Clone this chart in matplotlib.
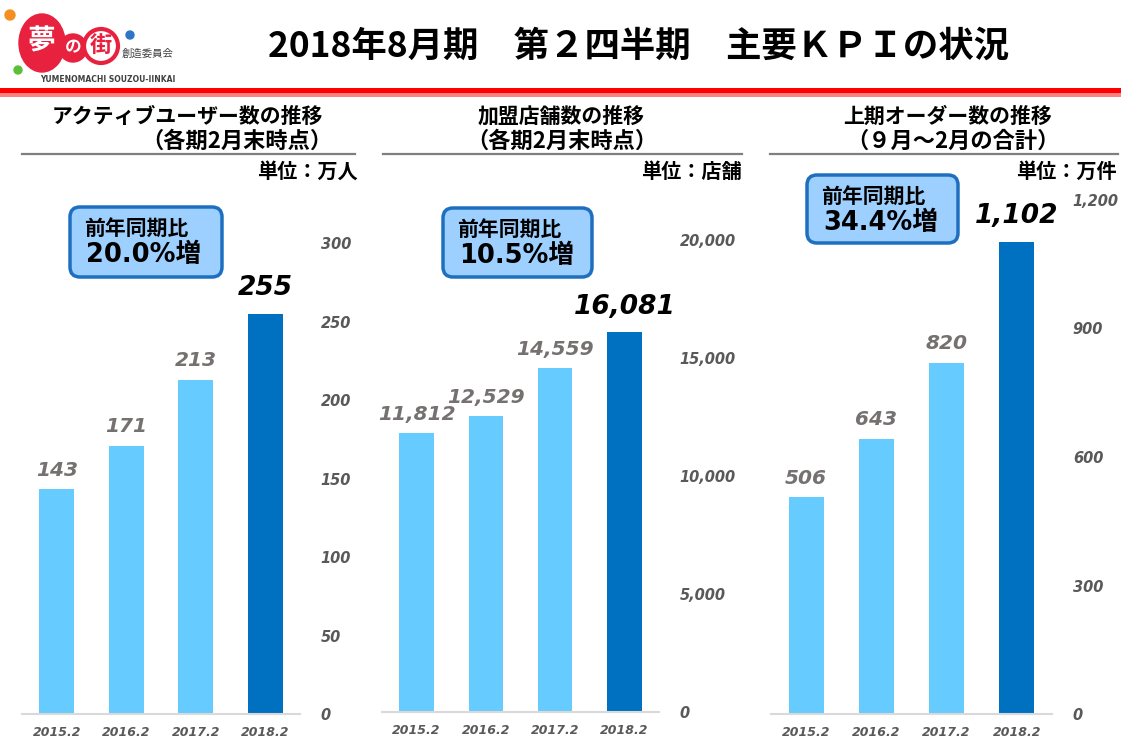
import matplotlib
matplotlib.use('Agg')
import matplotlib.pyplot as plt
from matplotlib.patches import FancyBboxPatch, Ellipse, Circle, Rectangle
from matplotlib.ticker import FuncFormatter

JP = ['Noto Sans CJK JP', 'DejaVu Sans']
NUM = ['DejaVu Sans', 'Noto Sans CJK JP']

#%% Data

periods = ['2015.2', '2016.2', '2017.2', '2018.2']
active_users = [143, 171, 213, 255]       # 万人
member_shops = [11812, 12529, 14559, 16081]  # 店舗
orders = [506, 643, 820, 1102]             # 万件

titles = [('アクティブユーザー数の推移', '（各期2月末時点）'),
          ('加盟店舗数の推移', '（各期2月末時点）'),
          ('上期オーダー数の推移', '（９月～2月の合計）')]
units = ['単位：万人', '単位：店舗', '単位：万件']
growth = ['20.0%増', '10.5%増', '34.4%増']
y_max = [300, 20000, 1200]
y_step = [50, 5000, 300]

#%% Layout (pixels)

W, H = 1121, 747
LIGHT = '#66CCFF'
DARK = '#0070C0'
GRAY = '#595959'
LABEL_GRAY = '#767171'

panels = [
    dict(vals=active_users, ax=(22, 243, 300, 714), t1=187, t2=237, line=(22, 355),
         unit_x=358, box=(70, 207, 222, 277)),
    dict(vals=member_shops, ax=(382, 240, 659, 712), t1=561, t2=562, line=(383, 742),
         unit_x=742, box=(443, 208, 592, 277)),
    dict(vals=orders, ax=(771, 200, 1052, 714), t1=948, t2=953, line=(770, 1118),
         unit_x=1117, box=(807, 175, 958, 243)),
]

fig = plt.figure(figsize=(W / 100, H / 100), dpi=100)

# overlay in pixel coords for headers, boxes, logo
bg = fig.add_axes([0, 0, 1, 1])
bg.set_xlim(0, W)
bg.set_ylim(H, 0)
bg.axis('off')

# logo
bg.add_patch(Circle((10, 15), 5, color='#F39020'))
bg.add_patch(Circle((130, 35), 4, color='#2E75C8'))
bg.add_patch(Circle((18, 70), 4, color='#5BBF3A'))
bg.add_patch(Ellipse((42, 43), 46, 58, color='#E8213F'))
bg.add_patch(Circle((73, 48), 14, color='#E8213F'))
bg.add_patch(Circle((101, 46), 17, facecolor='white', edgecolor='#E8213F', lw=3))
bg.text(41, 41, '夢', family=JP, weight='bold', size=20, color='white', ha='center', va='center')
bg.text(73, 47, 'の', family=JP, weight='bold', size=12, color='white', ha='center', va='center')
bg.text(101, 45, '街', family=JP, weight='bold', size=16, color='#E8213F', ha='center', va='center')
bg.text(122, 54, '創造委員会', family=JP, size=7.5, color='#404040', va='center')
bg.text(108, 80, 'YUMENOMACHI SOUZOU-IINKAI', family=NUM, weight='bold', size=5.5,
        color='#404040', ha='center', va='center')

# page title and red rule
bg.text(639, 46, '2018年8月期　第２四半期　主要ＫＰＩの状況', family=JP, weight='bold',
        size=25.5, ha='center', va='center', color='black')
bg.add_patch(Rectangle((0, 88), W, 5, color='#FF0000', lw=0))
bg.add_patch(Rectangle((0, 93), W, 4, color='#FF8080', lw=0))

for i, p in enumerate(panels):
    # headers
    bg.text(p['t1'], 116, titles[i][0], family=JP, weight='bold', size=15, ha='center', va='center')
    bg.text(p['t2'], 141, titles[i][1], family=JP, weight='bold', size=16, ha='center', va='center')
    bg.plot(p['line'], [154, 154], color='#7F7F7F', lw=1.6)
    bg.text(p['unit_x'], 171, units[i], family=JP, weight='bold', size=14.5, ha='right', va='center')

    # growth box
    x0, y0, x1, y1 = p['box']
    bg.add_patch(FancyBboxPatch((x0, y0), x1 - x0, y1 - y0, boxstyle='round,pad=0,rounding_size=10',
                                facecolor='#9DCFFF', edgecolor='#1E6FC0', lw=2.5))
    bg.text(x0 + 14, y0 + 21, '前年同期比', family=JP, weight='bold', size=15, va='center')
    bg.text(x0 + 16, y0 + 48, growth[i], family=NUM, weight='bold', size=18.5, va='center')

    # bar chart
    l, t, r, b = p['ax']
    ax = fig.add_axes([l / W, 1 - b / H, (r - l) / W, (b - t) / H])
    ax.patch.set_alpha(0)
    vals = p['vals']
    colors = [LIGHT] * (len(vals) - 1) + [DARK]
    ax.bar(range(len(vals)), vals, width=0.5, color=colors)
    ax.set_xlim(-0.5, len(vals) - 0.5)
    ax.set_ylim(0, y_max[i])
    ax.set_yticks(range(0, y_max[i] + 1, y_step[i]))
    ax.yaxis.set_major_formatter(FuncFormatter(lambda v, pos: '{:,.0f}'.format(v)))
    ax.yaxis.tick_right()
    ax.tick_params(axis='y', length=0, pad=15, labelsize=10.5, labelcolor=GRAY)
    ax.set_xticks(range(len(vals)), periods)
    ax.tick_params(axis='x', length=0, pad=9, labelsize=9, labelcolor=GRAY)
    for lab in ax.get_yticklabels() + ax.get_xticklabels():
        lab.set_fontstyle('italic')
        lab.set_fontweight('bold')
        lab.set_family(NUM)
    for s in ['top', 'left', 'right']:
        ax.spines[s].set_visible(False)
    ax.spines['bottom'].set_color('#D9D9D9')
    ax.spines['bottom'].set_linewidth(1.5)

    for j, v in enumerate(vals):
        last = j == len(vals) - 1
        ax.annotate('{:,}'.format(v), (j, v), xytext=(0, 9 if last else 7), textcoords='offset points',
                    ha='center', va='bottom', family=NUM, style='italic', weight='bold',
                    size=19 if last else 14.5, color='black' if last else LABEL_GRAY)

fig.savefig('out.png', dpi=100)
